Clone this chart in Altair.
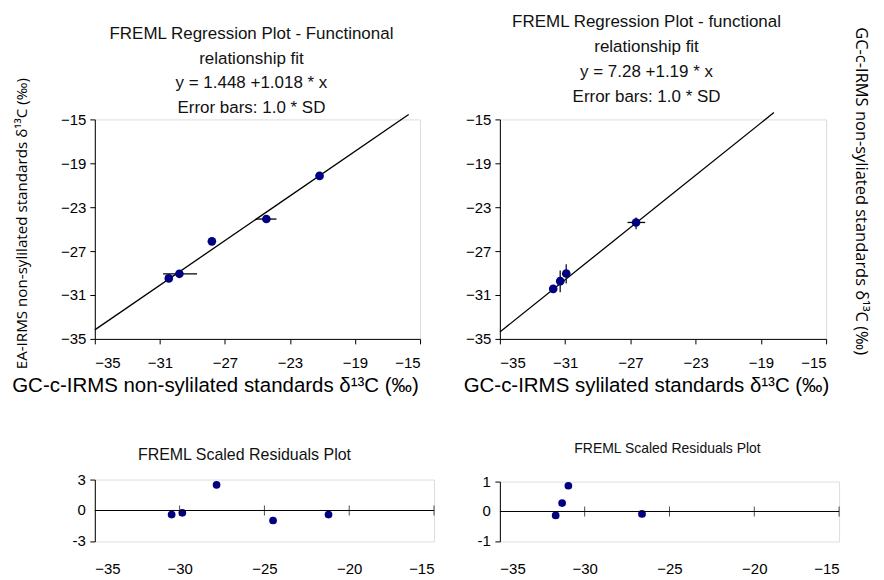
import altair as alt
import pandas as pd

# ---------------- data ----------------
# Top-left: FREML regression, non-sylilated standards
tl_x = [-30.45, -29.80, -27.80, -24.45, -21.18]
tl_y = [-29.49, -29.07, -26.11, -24.08, -20.15]
tl_hbar_x1 = [-30.80, -25.10]
tl_hbar_x2 = [-28.71, -23.83]
tl_hbar_y = [-29.07, -24.08]
tl_line_x = [-35.0, -15.7]
tl_line_y = [-34.18, -14.55]

# Top-right: FREML regression, sylilated standards
tr_x = [-31.73, -31.30, -30.93, -26.65]
tr_y = [-30.44, -29.74, -29.04, -24.39]
tr_vbar_x = [-31.30, -30.93, -26.65]
tr_vbar_y1 = [-28.76, -28.20, -23.93]
tr_vbar_y2 = [-30.75, -29.95, -25.00]
tr_hbar_x1 = [-27.17]
tr_hbar_x2 = [-26.09]
tr_hbar_y = [-24.39]
tr_line_x = [-35.0, -18.2]
tr_line_y = [-34.37, -14.38]

# Scaled residuals
bl_x = [-30.47, -29.84, -27.82, -24.49, -21.22]
bl_r = [-0.39, -0.23, 2.49, -0.97, -0.39]
br_x = [-31.71, -31.33, -30.96, -26.62]
br_r = [-0.13, 0.28, 0.86, -0.08]

top_ticks = [-35, -31, -27, -23, -19, -15]
res_x_ticks = [-35, -30, -25, -20, -15]
zero_ticks = [-30, -25, -20, -15]
bl_y_ticks = [-3, 0, 3]
br_y_ticks = [-1, 0, 1]

tl_title = ["FREML Regression Plot - Functinonal", "relationship fit",
            "y = 1.448 +1.018 * x", "Error bars: 1.0 * SD"]
tr_title = ["FREML Regression Plot - functional", "relationship fit",
            "y = 7.28 +1.19 * x", "Error bars: 1.0 * SD"]
tl_xtitle = "GC-c-IRMS non-sylilated standards δ¹³C (‰)"
tr_xtitle = "GC-c-IRMS sylilated standards δ¹³C (‰)"
tl_ytitle = "EA-IRMS non-sylilated standards δ¹³C (‰)"
tr_ytitle = "GC-c-IRMS non-syliated standards δ¹³C (‰)"
res_title = "FREML Scaled Residuals Plot"

FONT = "Liberation Sans"
NAVY = "#000080"

# ---------------- helpers ----------------
def top_axis(title, title_x=None, is_y=False):
    kw = dict(values=top_ticks, grid=False, domainColor="black", tickColor="black",
              tickSize=5, labelFontSize=15, labelFont=FONT, labelColor="black",
              labelOverlap=False, title=title, titleFontWeight="normal", titleColor="black")
    if is_y:
        kw.update(titleFont="Open Sans", titleFontSize=15.2, titlePadding=31, labelPadding=4,
                  titleY=104)
    else:
        kw.update(titleFont=FONT, titleFontSize=20.5, titlePadding=5, labelPadding=12,
                  titleX=title_x, titleAlign="center")
    return alt.Axis(**kw)


def title_marks(lines, cx, ys):
    marks = []
    for txt, yy in zip(lines, ys):
        marks.append(alt.Chart(pd.DataFrame({"t": [txt]})).mark_text(
            fontSize=17, font=FONT, color="#111111", align="center",
            baseline="alphabetic").encode(x=alt.value(cx), y=alt.value(yy), text="t:N"))
    return marks


def top_panel(px, py, hx1, hx2, hy, lx, ly, xtitle, xtitle_x, ytitle,
              vx=None, vy1=None, vy2=None):
    xs = alt.Scale(domain=[-35, -15], nice=False, zero=False)
    ys = alt.Scale(domain=[-35, -15], nice=False, zero=False)
    line = alt.Chart(pd.DataFrame({"x": lx, "y": ly})).mark_line(
        color="black", strokeWidth=1.3, clip=False).encode(
        x=alt.X("x:Q", scale=xs, axis=top_axis(xtitle, xtitle_x)),
        y=alt.Y("y:Q", scale=ys, axis=top_axis(ytitle, is_y=True)))
    layers = [line]
    layers.append(alt.Chart(pd.DataFrame({"x1": hx1, "x2": hx2, "y": hy})).mark_rule(
        color="black", strokeWidth=1.3).encode(x="x1:Q", x2="x2:Q", y="y:Q"))
    if vx is not None:
        layers.append(alt.Chart(pd.DataFrame({"x": vx, "y1": vy1, "y2": vy2})).mark_rule(
            color="#333333", strokeWidth=1.5).encode(x="x:Q", y="y1:Q", y2="y2:Q"))
    layers.append(alt.Chart(pd.DataFrame({"x": px, "y": py})).mark_circle(
        size=75, color=NAVY, opacity=1).encode(x="x:Q", y="y:Q"))
    return layers


def res_panel(rx, rr, yticks, title, tsize, dx, offset, w=340, h=62):
    xs = alt.Scale(domain=[-35, -15], nice=False, zero=False)
    ys = alt.Scale(domain=[min(yticks), max(yticks)], nice=False, zero=False)
    yaxis = alt.Axis(values=yticks, grid=False, domainColor="black",
                     tickColor="black", tickSize=5, labels=False, title=None)
    xaxis = alt.Axis(values=res_x_ticks, grid=False, domain=False, ticks=False,
                     labelFontSize=15, labelFont=FONT, labelColor="black",
                     labelOverlap=False, title=None, labelPadding=20)
    dots = alt.Chart(pd.DataFrame({"x": rx, "r": rr})).mark_circle(
        size=60, color=NAVY, opacity=1).encode(
        x=alt.X("x:Q", scale=xs, axis=xaxis),
        y=alt.Y("r:Q", scale=ys, axis=yaxis))
    zero = alt.Chart(pd.DataFrame({"r": [0]})).mark_rule(
        color="black", strokeWidth=1).encode(y="r:Q")
    ticks = alt.Chart(pd.DataFrame({"x": zero_ticks, "r": [0] * len(zero_ticks)})).mark_tick(
        orient="vertical", size=10, thickness=1, color="black").encode(x="x:Q", y="r:Q")
    ylabels = alt.Chart(pd.DataFrame({"r": yticks, "lab": [str(v) for v in yticks]})).mark_text(
        align="right", baseline="middle", fontSize=15, font=FONT, color="black",
        dx=-9).encode(x=alt.value(0), y="r:Q", text="lab:N")
    return alt.layer(dots, zero, ticks, ylabels).properties(
        width=w, height=h,
        title=alt.TitleParams(title, fontSize=tsize, font=FONT, fontWeight="normal",
                              color="#111111", anchor="middle", dx=dx, offset=offset,
                              frame="group"))


tl_layers = top_panel(tl_x, tl_y, tl_hbar_x1, tl_hbar_x2, tl_hbar_y, tl_line_x,
                      tl_line_y, tl_xtitle, 120.5, tl_ytitle)
tl = alt.layer(*tl_layers, *title_marks(tl_title, 157, [-80.5, -55.5, -31.5, -6.5])
               ).properties(width=326, height=220)

tr_layers = top_panel(tr_x, tr_y, tr_hbar_x1, tr_hbar_x2, tr_hbar_y, tr_line_x,
                      tr_line_y, tr_xtitle, 146.5, "", tr_vbar_x, tr_vbar_y1, tr_vbar_y2)
side = alt.Chart(pd.DataFrame({"t": [tr_ytitle]})).mark_text(
    angle=90, fontSize=16.5, font="Open Sans", color="black", align="center",
    baseline="middle").encode(x=alt.value(362), y=alt.value(72), text="t:N")
tr = alt.layer(*tr_layers, side, *title_marks(tr_title, 147, [-92.5, -67.5, -42.5, -17.5])
               ).properties(width=327, height=220)

bl = res_panel(bl_x, bl_r, bl_y_ticks, res_title, 16, -20, 10)
br = res_panel(br_x, br_r, br_y_ticks, res_title, 14, -2, 19, h=60)

chart = alt.hconcat(
    alt.vconcat(tl, bl, spacing=49),
    alt.vconcat(tr, br, spacing=44),
    spacing=27,
).properties(padding={"left": 3, "top": 4, "right": 6, "bottom": 0}).configure_view(
    stroke="#808080", strokeWidth=1).configure(background="white")

chart.save("out.html", embed_options={"renderer": "svg", "actions": False})
